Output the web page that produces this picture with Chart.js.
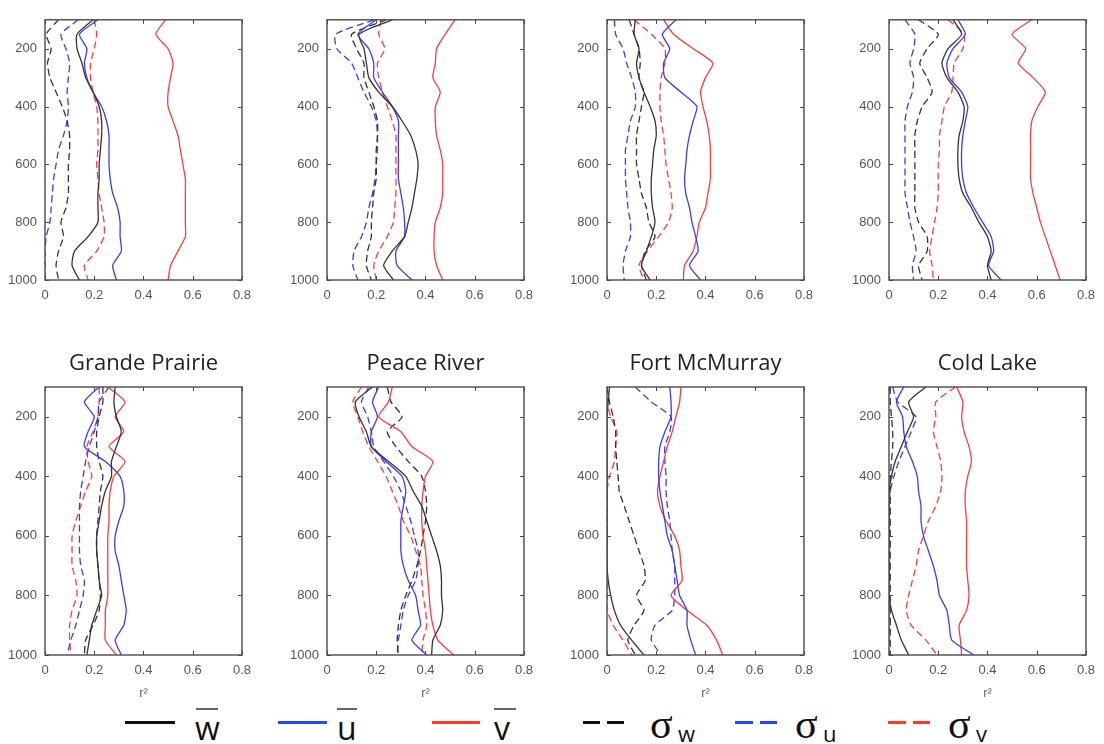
<!DOCTYPE html>
<html>
<head>
<meta charset="utf-8">
<script src="https://cdn.jsdelivr.net/npm/chart.js@4.4.1/dist/chart.umd.min.js"></script>
<style>
  body { margin: 0; background: #fff; }
  #page { position: relative; width: 1104px; height: 744px; overflow: hidden; background: #fff; }
  .panel { position: absolute; }
  .sw { position: absolute; top: 721px; height: 3px; }
  .bar { position: absolute; top: 708px; height: 2px; background: #666; }
  .big { position: absolute; top: 712px; font: 32px 'Open Sans', sans-serif; line-height: 32px; color: #111; }
  .sig { position: absolute; top: 703px; font: 42px 'Liberation Serif', serif; line-height: 42px; color: #111; }
  .sub { position: absolute; top: 722px; font: 22px 'Open Sans', sans-serif; line-height: 22px; color: #111; }
</style>
</head>
<body>
<div id="page">
  <div class="sw" style="left:125px;width:50px;background:#111"></div>
  <div class="bar" style="left:196px;width:22px"></div>
  <div class="big" style="left:195px">w</div>

  <div class="sw" style="left:278px;width:49px;background:#2346ff"></div>
  <div class="bar" style="left:337px;width:20px"></div>
  <div class="big" style="left:337px">u</div>

  <div class="sw" style="left:432px;width:48px;background:#ff3a26"></div>
  <div class="bar" style="left:494px;width:22px"></div>
  <div class="big" style="left:494px">v</div>

  <div class="sw" style="left:583px;width:41px;background:repeating-linear-gradient(90deg,#111 0 17px,transparent 17px 24px)"></div>
  <div class="sig" style="left:650px">σ</div><div class="sub" style="left:678px">w</div>

  <div class="sw" style="left:735px;width:42px;background:repeating-linear-gradient(90deg,#2346ff 0 18px,transparent 18px 25px)"></div>
  <div class="sig" style="left:795px">σ</div><div class="sub" style="left:823px">u</div>

  <div class="sw" style="left:888px;width:42px;background:repeating-linear-gradient(90deg,#ff3a26 0 18px,transparent 18px 25px)"></div>
  <div class="sig" style="left:948px">σ</div><div class="sub" style="left:976px">v</div>
</div>
<script>
// pressure levels (hPa), shared by every profile
const levels = [100, 150, 200, 250, 300, 350, 400, 450, 500, 550, 600, 650, 700, 750, 800, 850, 900, 950, 1000];
const xTicks = [0, 0.2, 0.4, 0.6, 0.8];
const yTicks = [200, 400, 600, 800, 1000];
const siteNames = ['Grande Prairie', 'Peace River', 'Fort McMurray', 'Cold Lake'];

// upper row, r2 profiles
const gp1_w  = [0.195, 0.13, 0.13, 0.15, 0.165, 0.195, 0.22, 0.23, 0.23, 0.225, 0.22, 0.22, 0.215, 0.215, 0.215, 0.175, 0.12, 0.11, 0.14];
const gp1_u  = [0.215, 0.14, 0.17, 0.16, 0.17, 0.195, 0.23, 0.25, 0.26, 0.26, 0.26, 0.265, 0.275, 0.295, 0.305, 0.305, 0.31, 0.275, 0.29];
const gp1_v  = [0.49, 0.45, 0.50, 0.52, 0.51, 0.50, 0.50, 0.52, 0.54, 0.55, 0.56, 0.57, 0.57, 0.57, 0.57, 0.57, 0.54, 0.51, 0.50];
const gp1_sw = [0.055, 0.005, 0.025, 0.01, 0.02, 0.045, 0.07, 0.09, 0.10, 0.10, 0.095, 0.095, 0.095, 0.085, 0.065, 0.075, 0.055, 0.045, 0.055];
const gp1_su = [0.135, 0.065, 0.085, 0.10, 0.095, 0.09, 0.095, 0.09, 0.075, 0.055, 0.045, 0.035, 0.03, 0.025, 0.02, 0.005, 0, 0, 0];
const gp1_sv = [0.20, 0.21, 0.20, 0.185, 0.185, 0.195, 0.21, 0.215, 0.215, 0.215, 0.21, 0.215, 0.22, 0.23, 0.24, 0.24, 0.21, 0.16, 0.175];

const pr1_w  = [0.265, 0.13, 0.15, 0.16, 0.17, 0.21, 0.265, 0.305, 0.34, 0.36, 0.37, 0.365, 0.355, 0.345, 0.33, 0.315, 0.265, 0.23, 0.27];
const pr1_u  = [0.20, 0.125, 0.17, 0.19, 0.19, 0.225, 0.265, 0.29, 0.29, 0.29, 0.29, 0.29, 0.30, 0.31, 0.315, 0.315, 0.28, 0.285, 0.345];
const pr1_v  = [0.52, 0.48, 0.445, 0.44, 0.43, 0.46, 0.44, 0.44, 0.445, 0.46, 0.47, 0.47, 0.47, 0.46, 0.44, 0.435, 0.435, 0.445, 0.47];
const pr1_sw = [0.24, 0.10, 0.12, 0.15, 0.15, 0.17, 0.19, 0.205, 0.205, 0.20, 0.20, 0.20, 0.19, 0.185, 0.18, 0.18, 0.165, 0.16, 0.18];
const pr1_su = [0.19, 0.035, 0.04, 0.10, 0.125, 0.15, 0.18, 0.20, 0.205, 0.205, 0.20, 0.195, 0.185, 0.17, 0.16, 0.14, 0.11, 0.105, 0.125];
const pr1_sv = [0.22, 0.21, 0.235, 0.205, 0.21, 0.225, 0.245, 0.265, 0.28, 0.28, 0.28, 0.28, 0.28, 0.275, 0.27, 0.245, 0.21, 0.19, 0.20];

const fm1_w  = [0.115, 0.11, 0.13, 0.12, 0.13, 0.15, 0.175, 0.195, 0.20, 0.19, 0.185, 0.18, 0.18, 0.185, 0.195, 0.18, 0.16, 0.14, 0.175];
const fm1_u  = [0.28, 0.225, 0.255, 0.23, 0.235, 0.30, 0.365, 0.35, 0.335, 0.325, 0.32, 0.315, 0.32, 0.335, 0.345, 0.36, 0.37, 0.335, 0.38];
const fm1_v  = [0.23, 0.27, 0.35, 0.43, 0.40, 0.38, 0.39, 0.405, 0.415, 0.42, 0.42, 0.42, 0.41, 0.40, 0.375, 0.365, 0.35, 0.315, 0.31];
const fm1_sw = [0.09, 0.11, 0.13, 0.135, 0.13, 0.15, 0.14, 0.13, 0.12, 0.12, 0.12, 0.13, 0.14, 0.16, 0.17, 0.195, 0.155, 0.14, 0.16];
const fm1_su = [0.03, 0.035, 0.065, 0.08, 0.10, 0.115, 0.115, 0.095, 0.085, 0.075, 0.075, 0.075, 0.08, 0.085, 0.095, 0.095, 0.075, 0.065, 0.07];
const fm1_sv = [0.11, 0.18, 0.235, 0.235, 0.22, 0.215, 0.215, 0.22, 0.23, 0.235, 0.24, 0.25, 0.26, 0.265, 0.25, 0.21, 0.165, 0.13, 0.15];

const cl1_w  = [0.26, 0.295, 0.24, 0.215, 0.235, 0.28, 0.305, 0.30, 0.285, 0.28, 0.28, 0.285, 0.30, 0.335, 0.365, 0.40, 0.415, 0.40, 0.415];
const cl1_u  = [0.28, 0.31, 0.26, 0.235, 0.245, 0.295, 0.32, 0.31, 0.30, 0.295, 0.295, 0.30, 0.315, 0.345, 0.38, 0.415, 0.425, 0.405, 0.455];
const cl1_v  = [0.58, 0.50, 0.555, 0.525, 0.585, 0.635, 0.605, 0.58, 0.575, 0.575, 0.575, 0.575, 0.585, 0.60, 0.615, 0.635, 0.655, 0.675, 0.695];
const cl1_sw = [0.12, 0.20, 0.155, 0.125, 0.155, 0.175, 0.135, 0.115, 0.105, 0.105, 0.105, 0.105, 0.105, 0.105, 0.12, 0.155, 0.155, 0.12, 0.135];
const cl1_su = [0.065, 0.105, 0.10, 0.085, 0.10, 0.095, 0.075, 0.065, 0.065, 0.065, 0.065, 0.065, 0.065, 0.075, 0.085, 0.10, 0.11, 0.095, 0.10];
const cl1_sv = [0.24, 0.305, 0.30, 0.265, 0.26, 0.255, 0.225, 0.215, 0.205, 0.205, 0.20, 0.20, 0.20, 0.195, 0.185, 0.175, 0.165, 0.175, 0.18];

// lower row, r2 profiles
const gp2_w  = [0.285, 0.28, 0.29, 0.31, 0.29, 0.27, 0.27, 0.245, 0.23, 0.22, 0.21, 0.21, 0.215, 0.22, 0.23, 0.21, 0.19, 0.18, 0.17];
const gp2_u  = [0.22, 0.16, 0.20, 0.175, 0.16, 0.245, 0.305, 0.32, 0.32, 0.30, 0.285, 0.285, 0.30, 0.31, 0.32, 0.33, 0.32, 0.285, 0.31];
const gp2_v  = [0.255, 0.325, 0.285, 0.32, 0.26, 0.325, 0.28, 0.265, 0.26, 0.26, 0.255, 0.255, 0.255, 0.255, 0.255, 0.245, 0.245, 0.245, 0.29];
const gp2_sw = [0.235, 0.235, 0.22, 0.21, 0.21, 0.22, 0.235, 0.225, 0.22, 0.215, 0.21, 0.21, 0.215, 0.22, 0.225, 0.22, 0.195, 0.165, 0.16];
const gp2_su = [0.26, 0.22, 0.215, 0.20, 0.18, 0.165, 0.155, 0.145, 0.14, 0.14, 0.14, 0.14, 0.145, 0.16, 0.155, 0.14, 0.125, 0.105, 0.09];
const gp2_sv = [0.22, 0.22, 0.215, 0.195, 0.17, 0.175, 0.19, 0.165, 0.145, 0.125, 0.11, 0.11, 0.11, 0.125, 0.13, 0.11, 0.10, 0.10, 0.105];

const pr2_w  = [0.185, 0.115, 0.13, 0.16, 0.18, 0.25, 0.32, 0.35, 0.385, 0.405, 0.425, 0.445, 0.46, 0.465, 0.465, 0.47, 0.46, 0.43, 0.425];
const pr2_u  = [0.21, 0.185, 0.205, 0.18, 0.18, 0.24, 0.305, 0.32, 0.31, 0.30, 0.30, 0.30, 0.31, 0.33, 0.36, 0.37, 0.38, 0.345, 0.405];
const pr2_v  = [0.265, 0.25, 0.21, 0.30, 0.345, 0.43, 0.40, 0.39, 0.385, 0.385, 0.39, 0.40, 0.405, 0.41, 0.415, 0.42, 0.43, 0.45, 0.515];
const pr2_sw = [0.245, 0.26, 0.305, 0.245, 0.28, 0.33, 0.385, 0.40, 0.405, 0.40, 0.39, 0.38, 0.365, 0.345, 0.32, 0.30, 0.29, 0.285, 0.29];
const pr2_su = [0.17, 0.14, 0.165, 0.18, 0.19, 0.23, 0.27, 0.30, 0.32, 0.34, 0.355, 0.37, 0.37, 0.36, 0.33, 0.31, 0.30, 0.29, 0.285];
const pr2_sv = [0.14, 0.105, 0.125, 0.145, 0.17, 0.205, 0.24, 0.265, 0.29, 0.31, 0.34, 0.36, 0.38, 0.385, 0.39, 0.40, 0.405, 0.39, 0.385];

const fm2_w  = [0.01, 0.005, 0, 0, 0, 0, 0, 0, 0, 0, 0, 0, 0, 0.005, 0.015, 0.03, 0.055, 0.10, 0.15];
const fm2_u  = [0.255, 0.26, 0.26, 0.235, 0.215, 0.21, 0.21, 0.215, 0.225, 0.235, 0.245, 0.265, 0.275, 0.285, 0.295, 0.325, 0.325, 0.34, 0.36];
const fm2_v  = [0.30, 0.295, 0.28, 0.265, 0.245, 0.23, 0.215, 0.205, 0.215, 0.24, 0.275, 0.295, 0.30, 0.305, 0.26, 0.325, 0.405, 0.445, 0.47];
const fm2_sw = [0, 0.01, 0.025, 0.035, 0.035, 0.04, 0.045, 0.05, 0.07, 0.09, 0.11, 0.13, 0.15, 0.155, 0.12, 0.15, 0.11, 0.085, 0.115];
const fm2_su = [0.115, 0.18, 0.26, 0.255, 0.235, 0.235, 0.24, 0.24, 0.245, 0.255, 0.26, 0.265, 0.275, 0.275, 0.275, 0.265, 0.195, 0.18, 0.22];
const fm2_sv = [0, 0, 0.015, 0.04, 0.035, 0.03, 0.01, 0, 0, 0, 0, 0, 0, 0, 0, 0, 0.025, 0.065, 0.10];

const cl2_w  = [0.15, 0.08, 0.10, 0.075, 0.05, 0.025, 0.01, 0, 0, 0, 0, 0, 0, 0, 0, 0.01, 0.03, 0.05, 0.08];
const cl2_u  = [0.06, 0.03, 0.055, 0.06, 0.07, 0.095, 0.115, 0.12, 0.13, 0.13, 0.14, 0.16, 0.18, 0.195, 0.205, 0.235, 0.245, 0.255, 0.345];
const cl2_v  = [0.275, 0.30, 0.295, 0.305, 0.325, 0.335, 0.32, 0.31, 0.31, 0.315, 0.315, 0.315, 0.315, 0.32, 0.325, 0.315, 0.285, 0.29, 0.295];
const cl2_sw = [0.005, 0.005, 0.01, 0.015, 0.015, 0.01, 0.005, 0.005, 0.005, 0.005, 0.005, 0.005, 0.005, 0.005, 0.005, 0.005, 0.005, 0.005, 0.005];
const cl2_su = [0.015, 0.035, 0.11, 0.09, 0.065, 0.04, 0.02, 0.005, 0, 0, 0, 0, 0, 0, 0, 0, 0, 0, 0];
const cl2_sv = [0.27, 0.19, 0.19, 0.18, 0.195, 0.21, 0.215, 0.21, 0.19, 0.16, 0.14, 0.12, 0.11, 0.095, 0.08, 0.07, 0.09, 0.15, 0.195];

const panels = [
  { row: 0, col: 0, series: [gp1_w, gp1_u, gp1_v, gp1_sw, gp1_su, gp1_sv] },
  { row: 0, col: 1, series: [pr1_w, pr1_u, pr1_v, pr1_sw, pr1_su, pr1_sv] },
  { row: 0, col: 2, series: [fm1_w, fm1_u, fm1_v, fm1_sw, fm1_su, fm1_sv] },
  { row: 0, col: 3, series: [cl1_w, cl1_u, cl1_v, cl1_sw, cl1_su, cl1_sv] },
  { row: 1, col: 0, series: [gp2_w, gp2_u, gp2_v, gp2_sw, gp2_su, gp2_sv] },
  { row: 1, col: 1, series: [pr2_w, pr2_u, pr2_v, pr2_sw, pr2_su, pr2_sv] },
  { row: 1, col: 2, series: [fm2_w, fm2_u, fm2_v, fm2_sw, fm2_su, fm2_sv] },
  { row: 1, col: 3, series: [cl2_w, cl2_u, cl2_v, cl2_sw, cl2_su, cl2_sv] }
];

// w, u, v means solid; sigma_w, sigma_u, sigma_v dashed
const lineStyles = [
  { color: '#333333', dash: [] },
  { color: '#3b3bff', dash: [] },
  { color: '#ff3b3b', dash: [] },
  { color: '#333333', dash: [7, 4] },
  { color: '#3b3bff', dash: [7, 4] },
  { color: '#ff3b3b', dash: [7, 4] }
];

const colLeft = [45, 327, 607, 889];
const rowTop = [12, 387];
const plotW = 202, plotH = 268;
const axisW = 45, padRight = 12;

// box round the plot with inward tick marks on all four sides
const frameTicks = {
  id: 'frameTicks',
  afterDatasetsDraw(chart) {
    const { ctx, chartArea: a, scales } = chart;
    ctx.save();
    ctx.strokeStyle = '#4a4a4a';
    ctx.lineWidth = 1;
    ctx.beginPath();
    scales.x.ticks.forEach(t => {
      const px = Math.round(scales.x.getPixelForValue(t.value)) + 0.5;
      ctx.moveTo(px, a.bottom); ctx.lineTo(px, a.bottom - 4);
      ctx.moveTo(px, a.top); ctx.lineTo(px, a.top + 4);
    });
    scales.y.ticks.forEach(t => {
      const py = Math.round(scales.y.getPixelForValue(t.value)) + 0.5;
      ctx.moveTo(a.left, py); ctx.lineTo(a.left + 4, py);
      ctx.moveTo(a.right, py); ctx.lineTo(a.right - 4, py);
    });
    ctx.stroke();
    ctx.lineWidth = 1.4;
    ctx.strokeRect(a.left, a.top, a.right - a.left, a.bottom - a.top);
    ctx.restore();
  }
};

const tickFont = { family: "'Liberation Sans', Arial, sans-serif", size: 13 };
const page = document.getElementById('page');

panels.forEach(p => {
  const titled = p.row === 1;
  const headH = titled ? 36 : 8;
  const footH = titled ? 47 : 26;

  const box = document.createElement('div');
  box.className = 'panel';
  box.style.left = (colLeft[p.col] - axisW) + 'px';
  box.style.top = (rowTop[p.row] - headH) + 'px';
  box.style.width = (axisW + plotW + padRight) + 'px';
  box.style.height = (headH + plotH + footH) + 'px';
  const cv = document.createElement('canvas');
  box.appendChild(cv);
  page.appendChild(box);

  const datasets = p.series.map((vals, i) => ({
    data: levels.map((lev, k) => ({ x: vals[k], y: lev })),
    showLine: true,
    borderColor: lineStyles[i].color,
    borderDash: lineStyles[i].dash,
    borderWidth: 1.3,
    pointRadius: 0,
    tension: 0.2
  }));

  new Chart(cv, {
    type: 'scatter',
    data: { datasets },
    options: {
      responsive: true,
      maintainAspectRatio: false,
      animation: false,
      events: [],
      layout: { padding: { top: titled ? 0 : 8, right: padRight, left: 0, bottom: 0 } },
      plugins: {
        legend: { display: false },
        tooltip: { enabled: false },
        title: {
          display: titled,
          fullSize: false,
          text: siteNames[p.col],
          color: '#222',
          font: { family: "'Open Sans', sans-serif", size: 22, weight: 'normal', lineHeight: 1.2 },
          padding: { top: 0, bottom: 9.6 }
        }
      },
      scales: {
        x: {
          type: 'linear',
          min: 0,
          max: 0.8,
          afterBuildTicks: s => { s.ticks = xTicks.map(v => ({ value: v })); },
          afterFit: s => { s.height = footH; },
          grid: { display: false, drawTicks: false },
          border: { display: false },
          ticks: { color: '#555', font: tickFont, padding: 8, callback: v => String(v) },
          title: {
            display: titled,
            text: 'r²',
            color: '#666',
            font: { family: "'Liberation Sans', Arial, sans-serif", size: 13 },
            padding: { top: 0, bottom: 1 }
          }
        },
        y: {
          type: 'linear',
          min: 100,
          max: 1000,
          reverse: true,
          afterBuildTicks: s => { s.ticks = yTicks.map(v => ({ value: v })); },
          afterFit: s => { s.width = axisW; },
          grid: { display: false, drawTicks: false },
          border: { display: false },
          ticks: { color: '#555', font: tickFont, padding: 8, callback: v => String(v) }
        }
      }
    },
    plugins: [frameTicks]
  });
});
</script>
</body>
</html>
